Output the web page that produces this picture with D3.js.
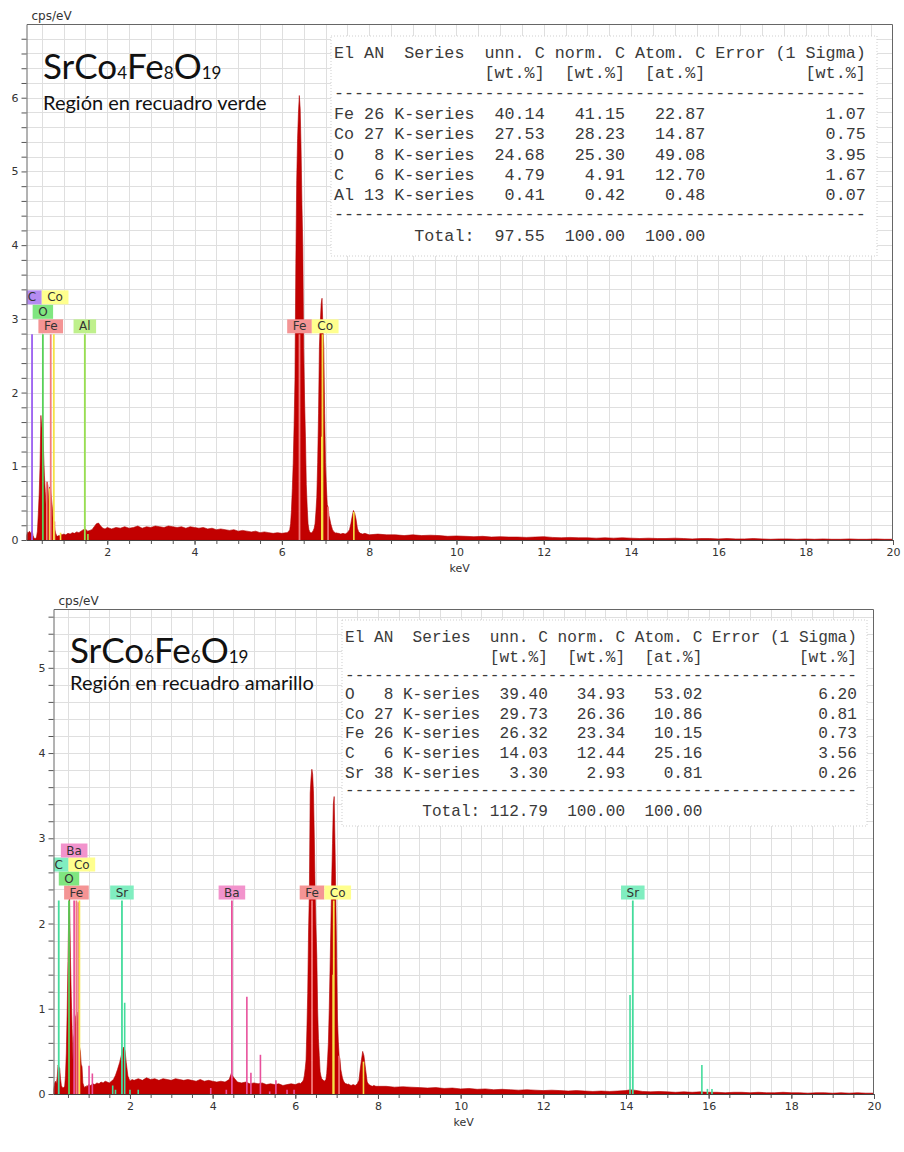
<!DOCTYPE html>
<html>
<head>
<meta charset="utf-8">
<script src="https://cdn.jsdelivr.net/npm/d3@7"></script>
<style>
  body { margin: 0; background: #fff; }
  svg { display: block; }
  .mono { font-family: "Liberation Mono", "DejaVu Sans Mono", monospace; white-space: pre; fill: #3a3a3a; }
  .tick text { font-family: "DejaVu Sans", Verdana, sans-serif; font-size: 11px; fill: #333; }
</style>
</head>
<body>
<svg id="chart" width="904" height="1152"></svg>
<script>
// ---------------- EDS spectrum: SrCo4Fe8O19 (green region) ----------------
const spectrumGreen = [
  [0.15,0.06],[0.16,0.08],[0.18,0.11],[0.20,0.10],[0.22,0.12],[0.24,0.09],[0.26,0.11],[0.28,0.13],[0.30,0.06],
  [0.32,0.03],[0.34,0.02],[0.36,0.02],[0.38,0.04],[0.40,0.12],[0.42,0.35],[0.44,0.62],[0.46,1.00],
  [0.48,1.69],[0.50,1.52],[0.52,1.58],[0.54,1.21],[0.56,0.88],[0.58,0.66],[0.60,0.45],[0.62,0.79],
  [0.64,0.74],[0.66,0.52],[0.68,0.72],[0.70,0.70],[0.72,0.58],[0.74,0.45],[0.76,0.27],[0.78,0.24],
  [0.80,0.14],[0.82,0.09],[0.84,0.06],[0.86,0.05],[0.88,0.06],[0.90,0.05],[0.92,0.07],[0.94,0.06],
  [0.96,0.08],[0.98,0.07],[1.00,0.08],
  [1.05,0.07],[1.10,0.09],[1.15,0.08],[1.20,0.10],[1.25,0.09],[1.30,0.11],[1.35,0.10],[1.40,0.12],
  [1.45,0.14],[1.50,0.15],[1.55,0.12],[1.60,0.13],[1.65,0.14],[1.70,0.18],[1.75,0.22],[1.80,0.23],
  [1.85,0.19],[1.90,0.16],[1.95,0.15],[2.00,0.17],
  [2.1,0.15],[2.2,0.17],[2.3,0.16],[2.4,0.18],[2.5,0.16],[2.6,0.17],[2.7,0.19],[2.8,0.16],[2.9,0.18],
  [3.0,0.17],[3.1,0.19],[3.2,0.18],[3.3,0.17],[3.4,0.19],[3.5,0.18],[3.6,0.17],[3.7,0.18],[3.8,0.16],
  [3.9,0.18],[4.0,0.17],[4.1,0.16],[4.2,0.17],[4.3,0.15],[4.4,0.16],[4.5,0.14],[4.6,0.15],[4.7,0.14],
  [4.8,0.13],[4.9,0.14],[5.0,0.12],[5.1,0.13],[5.2,0.12],[5.3,0.11],[5.4,0.12],[5.5,0.10],[5.6,0.11],
  [5.7,0.10],[5.8,0.09],[5.9,0.10],[6.0,0.09],[6.1,0.10],
  [6.12,0.10],[6.14,0.11],[6.16,0.12],[6.18,0.14],[6.20,0.22],[6.22,0.41],[6.24,0.70],[6.26,1.04],
  [6.28,1.55],[6.30,2.17],[6.32,3.75],[6.34,4.88],[6.36,5.45],[6.38,5.80],[6.40,6.03],[6.42,5.85],
  [6.44,5.30],[6.46,4.55],[6.48,3.97],[6.50,2.60],[6.52,1.90],[6.54,1.40],[6.56,0.75],[6.58,0.45],
  [6.60,0.22],[6.62,0.14],[6.64,0.11],[6.66,0.10],[6.68,0.10],[6.70,0.11],[6.72,0.13],[6.74,0.16],
  [6.76,0.22],[6.78,0.38],[6.80,0.58],[6.82,1.05],[6.84,1.72],[6.86,2.62],[6.88,2.95],[6.90,3.20],
  [6.92,3.28],[6.94,2.90],[6.96,2.62],[6.98,1.72],[7.00,1.05],[7.02,0.72],[7.04,0.48],[7.06,0.44],
  [7.08,0.33],[7.10,0.28],[7.12,0.22],[7.14,0.18],[7.16,0.14],[7.18,0.12],[7.20,0.11],[7.22,0.10],
  [7.24,0.09],[7.26,0.10],[7.28,0.09],[7.30,0.09],
  [7.35,0.08],[7.40,0.09],[7.45,0.08],[7.50,0.10],[7.55,0.14],[7.58,0.22],[7.61,0.32],[7.64,0.40],
  [7.67,0.36],[7.70,0.28],[7.73,0.16],[7.76,0.11],[7.80,0.09],[7.85,0.08],[7.90,0.09],[7.95,0.08],[8.00,0.07],
  [8.2,0.08],[8.4,0.07],[8.6,0.07],[8.8,0.06],[9.0,0.07],[9.2,0.06],[9.4,0.065],[9.6,0.06],[9.8,0.05],
  [10.0,0.055],[10.2,0.05],[10.4,0.045],[10.6,0.05],[10.8,0.04],[11.0,0.045],[11.2,0.04],[11.4,0.04],
  [11.6,0.035],[11.8,0.04],[12.0,0.045],[12.2,0.035],[12.4,0.03],[12.6,0.035],[12.8,0.03],[13.0,0.03],
  [13.2,0.025],[13.4,0.03],[13.6,0.025],[13.8,0.03],[14.0,0.025],[14.2,0.02],[14.4,0.025],[14.6,0.02],
  [14.8,0.02],[15.0,0.025],[15.2,0.02],[15.4,0.015],[15.6,0.02],[15.8,0.02],[16.0,0.015],[16.2,0.02],
  [16.4,0.015],[16.6,0.015],[16.8,0.02],[17.0,0.015],[17.2,0.01],[17.4,0.015],[17.6,0.015],[17.8,0.01],
  [18.0,0.015],[18.2,0.01],[18.4,0.015],[18.6,0.01],[18.8,0.01],[19.0,0.015],[19.2,0.01],[19.4,0.01],
  [19.6,0.015],[19.8,0.01],[20.0,0.01]
];

// Labelled element lines (keV), listed in stacking priority
const labelsGreen = [
  { el: "Fe", keV: 0.705 }, { el: "O", keV: 0.525 }, { el: "C", keV: 0.277 }, { el: "Co", keV: 0.776 },
  { el: "Al", keV: 1.486 }, { el: "Fe", keV: 6.404 }, { el: "Co", keV: 6.930 }
];
// Secondary element lines with their marker heights (cps/eV)
const minorLinesGreen = [
  { el: "Fe", keV: 0.615, cps: 0.78 }, { el: "Co", keV: 0.678, cps: 0.70 }, { el: "Fe", keV: 0.792, cps: 0.25 },
  { el: "Co", keV: 0.930, cps: 0.10 }, { el: "Al", keV: 1.557, cps: 0.08 },
  { el: "Co", keV: 6.915, cps: 1.40 }, { el: "Fe", keV: 7.058, cps: 0.45 }, { el: "Co", keV: 7.649, cps: 0.38 }
];

const tableRowsGreen = [
  ["Fe", 26, "K-series", 40.14, 41.15, 22.87, 1.07],
  ["Co", 27, "K-series", 27.53, 28.23, 14.87, 0.75],
  ["O", 8, "K-series", 24.68, 25.30, 49.08, 3.95],
  ["C", 6, "K-series", 4.79, 4.91, 12.70, 1.67],
  ["Al", 13, "K-series", 0.41, 0.42, 0.48, 0.07]
];
const tableTotalGreen = [97.55, 100.00, 100.00];
const formulaGreen = [["Sr", ""], ["Co", "4"], ["Fe", "8"], ["O", "19"]];
const regionGreen = "Región en recuadro verde";

// ---------------- EDS spectrum: SrCo6Fe6O19 (yellow region) ----------------
const spectrumYellow = [
  [0.15,0.05],[0.16,0.08],[0.18,0.13],[0.20,0.15],[0.22,0.12],[0.24,0.20],[0.26,0.34],[0.28,0.32],[0.30,0.30],
  [0.32,0.18],[0.34,0.10],[0.36,0.08],[0.38,0.07],[0.40,0.08],[0.42,0.09],[0.44,0.22],[0.46,0.48],
  [0.48,0.95],[0.50,1.55],[0.52,2.16],[0.54,2.29],[0.56,1.60],[0.58,1.14],[0.60,0.77],[0.62,0.40],
  [0.64,0.67],[0.66,0.72],[0.68,0.90],[0.70,0.93],[0.72,0.96],[0.74,0.86],[0.76,0.74],[0.78,0.55],
  [0.80,0.50],[0.82,0.35],[0.84,0.32],[0.86,0.13],[0.88,0.10],[0.90,0.07],[0.92,0.09],[0.94,0.08],
  [0.96,0.10],[0.98,0.09],[1.00,0.11],
  [1.05,0.10],[1.10,0.12],[1.15,0.11],[1.20,0.13],[1.25,0.12],[1.30,0.14],[1.35,0.13],[1.40,0.15],
  [1.45,0.14],[1.50,0.13],[1.55,0.15],[1.60,0.17],[1.65,0.22],[1.70,0.29],[1.75,0.37],[1.79,0.45],
  [1.82,0.52],[1.85,0.55],[1.88,0.51],[1.91,0.37],[1.95,0.21],[2.00,0.15],[2.05,0.17],[2.10,0.16],
  [2.2,0.18],[2.3,0.16],[2.4,0.19],[2.5,0.17],[2.6,0.18],[2.7,0.16],[2.8,0.18],[2.9,0.17],[3.0,0.16],
  [3.1,0.18],[3.2,0.17],[3.3,0.16],[3.4,0.17],[3.5,0.16],[3.6,0.15],[3.7,0.17],[3.8,0.15],[3.9,0.16],
  [4.0,0.15],[4.1,0.14],[4.2,0.15],[4.3,0.14],[4.4,0.17],[4.45,0.24],[4.5,0.20],[4.6,0.14],[4.7,0.13],
  [4.8,0.14],[4.9,0.12],[5.0,0.13],[5.1,0.12],[5.2,0.13],[5.3,0.11],[5.4,0.12],[5.5,0.11],[5.6,0.12],
  [5.7,0.10],[5.8,0.11],[5.9,0.12],[6.0,0.11],[6.1,0.13],
  [6.12,0.12],[6.14,0.13],[6.16,0.14],[6.18,0.15],[6.20,0.17],[6.22,0.22],[6.24,0.30],[6.26,0.40],
  [6.28,0.75],[6.30,1.18],[6.32,1.90],[6.34,2.36],[6.36,3.53],[6.38,3.70],[6.40,3.81],[6.42,3.75],
  [6.44,3.53],[6.46,3.00],[6.48,2.36],[6.50,1.95],[6.52,1.62],[6.54,0.99],[6.56,0.65],[6.58,0.45],
  [6.60,0.26],[6.62,0.21],[6.64,0.18],[6.66,0.17],[6.68,0.16],[6.70,0.15],[6.72,0.16],[6.74,0.17],
  [6.76,0.24],[6.78,0.40],[6.80,0.60],[6.82,0.98],[6.84,1.45],[6.86,1.96],[6.88,2.50],[6.90,2.94],
  [6.92,3.40],[6.94,3.49],[6.96,2.94],[6.98,2.30],[7.00,1.60],[7.02,0.88],[7.04,0.62],[7.06,0.45],
  [7.08,0.41],[7.10,0.29],[7.12,0.24],[7.14,0.19],[7.16,0.16],[7.18,0.14],[7.20,0.13],[7.22,0.12],
  [7.24,0.12],[7.26,0.11],[7.28,0.12],[7.30,0.11],
  [7.35,0.10],[7.40,0.11],[7.45,0.10],[7.50,0.12],[7.54,0.16],[7.57,0.29],[7.60,0.40],[7.63,0.50],
  [7.66,0.45],[7.70,0.29],[7.74,0.14],[7.78,0.11],[7.82,0.10],[7.86,0.09],[7.90,0.10],[7.95,0.09],[8.00,0.09],
  [8.2,0.09],[8.4,0.08],[8.6,0.085],[8.8,0.08],[9.0,0.075],[9.2,0.07],[9.4,0.075],[9.6,0.065],[9.8,0.07],
  [10.0,0.06],[10.2,0.065],[10.4,0.055],[10.6,0.06],[10.8,0.05],[11.0,0.055],[11.2,0.05],[11.4,0.045],
  [11.6,0.05],[11.8,0.045],[12.0,0.04],[12.2,0.045],[12.4,0.04],[12.6,0.035],[12.8,0.04],[13.0,0.035],
  [13.2,0.03],[13.4,0.035],[13.6,0.03],[13.8,0.035],[14.0,0.04],[14.1,0.05],[14.2,0.045],[14.4,0.03],
  [14.6,0.025],[14.8,0.03],[15.0,0.025],[15.2,0.02],[15.4,0.025],[15.6,0.02],[15.8,0.025],[16.0,0.02],
  [16.2,0.02],[16.4,0.015],[16.6,0.02],[16.8,0.02],[17.0,0.015],[17.2,0.02],[17.4,0.015],[17.6,0.015],
  [17.8,0.02],[18.0,0.015],[18.2,0.015],[18.4,0.01],[18.6,0.015],[18.8,0.015],[19.0,0.01],[19.2,0.015],
  [19.4,0.01],[19.6,0.015],[19.8,0.01],[20.0,0.01]
];

const labelsYellow = [
  { el: "Fe", keV: 0.705 }, { el: "O", keV: 0.525 }, { el: "C", keV: 0.277 }, { el: "Co", keV: 0.776 },
  { el: "Ba", keV: 0.650 }, { el: "Sr", keV: 1.806 }, { el: "Ba", keV: 4.466 },
  { el: "Fe", keV: 6.404 }, { el: "Co", keV: 6.930 }, { el: "Sr", keV: 14.165 }
];
const minorLinesYellow = [
  { el: "Ba", keV: 0.750, cps: 2.25 }, { el: "Ba", keV: 1.010, cps: 0.33 }, { el: "Ba", keV: 1.090, cps: 0.24 },
  { el: "Sr", keV: 1.582, cps: 0.10 }, { el: "Sr", keV: 1.650, cps: 0.05 }, { el: "Sr", keV: 1.872, cps: 1.07 },
  { el: "Sr", keV: 2.000, cps: 0.05 }, { el: "Sr", keV: 2.200, cps: 0.05 },
  { el: "Ba", keV: 3.954, cps: 0.07 }, { el: "Ba", keV: 4.331, cps: 0.05 }, { el: "Ba", keV: 4.828, cps: 1.14 },
  { el: "Ba", keV: 4.926, cps: 0.25 }, { el: "Ba", keV: 5.156, cps: 0.46 }, { el: "Ba", keV: 5.380, cps: 0.03 },
  { el: "Ba", keV: 5.531, cps: 0.16 }, { el: "Ba", keV: 5.800, cps: 0.05 }, { el: "Ba", keV: 5.970, cps: 0.05 },
  { el: "Co", keV: 6.915, cps: 1.40 }, { el: "Fe", keV: 7.058, cps: 0.45 }, { el: "Co", keV: 7.649, cps: 0.38 },
  { el: "Sr", keV: 14.098, cps: 1.16 }, { el: "Sr", keV: 15.836, cps: 0.34 },
  { el: "Sr", keV: 15.970, cps: 0.06 }, { el: "Sr", keV: 16.080, cps: 0.06 }
];

const tableRowsYellow = [
  ["O", 8, "K-series", 39.40, 34.93, 53.02, 6.20],
  ["Co", 27, "K-series", 29.73, 26.36, 10.86, 0.81],
  ["Fe", 26, "K-series", 26.32, 23.34, 10.15, 0.73],
  ["C", 6, "K-series", 14.03, 12.44, 25.16, 3.56],
  ["Sr", 38, "K-series", 3.30, 2.93, 0.81, 0.26]
];
const tableTotalYellow = [112.79, 100.00, 100.00];
const formulaYellow = [["Sr", ""], ["Co", "6"], ["Fe", "6"], ["O", "19"]];
const regionYellow = "Región en recuadro amarillo";

const xTickLabels = [2, 4, 6, 8, 10, 12, 14, 16, 18, 20];

// ---------------- styling ----------------
const labelFill = {
  green:  { C: "#b58cf2", O: "#80e680", Fe: "#f49494", Co: "#ffff8e", Al: "#bff08c" },
  yellow: { C: "#80eec0", O: "#80e680", Fe: "#f49494", Co: "#ffff8e", Ba: "#f293cc", Sr: "#80eec0" }
};
const lineStroke = {
  green:  { C: "#9a5ef0", O: "#58d058", Fe: "#f27c7c", Co: "#f4e444", Al: "#98e050" },
  yellow: { C: "#44dc9c", O: "#58d058", Fe: "#f27c7c", Co: "#f4e444", Ba: "#e8509c", Sr: "#44dc9c" }
};

const svg = d3.select("#chart");
const defs = svg.append("defs");

function drawPanel(cfg) {
  const g = svg.append("g");
  const x = d3.scaleLinear().domain([0.15, 20]).range([cfg.left, cfg.right]);
  const y = d3.scaleLinear().domain([0, cfg.yMax]).range([cfg.bottom, cfg.top]);

  const clipId = "clip-" + cfg.key;
  defs.append("clipPath").attr("id", clipId)
    .append("rect").attr("x", cfg.left).attr("y", cfg.top)
    .attr("width", cfg.right - cfg.left).attr("height", cfg.bottom - cfg.top);

  const xMinor = d3.range(0.5, 20.001, 0.5);
  const yMinor = d3.range(0, cfg.yMax, 0.2).map(v => +v.toFixed(1));

  // grid
  const grid = g.append("g").attr("stroke", "#dfdfdf").attr("stroke-width", 1);
  grid.selectAll(".gx").data(xMinor.filter(v => v < 20)).join("line")
    .attr("x1", d => Math.round(x(d)) + 0.5).attr("x2", d => Math.round(x(d)) + 0.5)
    .attr("y1", cfg.top).attr("y2", cfg.bottom);
  grid.selectAll(".gy").data(yMinor.filter(v => v > 0)).join("line")
    .attr("x1", cfg.left).attr("x2", cfg.right)
    .attr("y1", d => Math.round(y(d)) + 0.5).attr("y2", d => Math.round(y(d)) + 0.5);

  const plot = g.append("g").attr("clip-path", `url(#${clipId})`);

  // spectrum
  const area = d3.area().x(d => x(d[0])).y0(y(0)).y1(d => y(d[1]));
  plot.append("path").datum(cfg.spectrum).attr("d", area)
    .attr("fill", "#c20000").attr("stroke", "#b00000").attr("stroke-width", 0.6);

  // secondary element lines
  plot.selectAll(".minor").data(cfg.minor).join("line")
    .attr("x1", d => x(d.keV)).attr("x2", d => x(d.keV))
    .attr("y1", y(0)).attr("y2", d => y(d.cps))
    .attr("stroke", d => lineStroke[cfg.key][d.el]).attr("stroke-width", 1.6);

  // labelled element lines
  const topY = y(cfg.markerTop);
  plot.selectAll(".major").data(cfg.labels).join("line")
    .attr("x1", d => x(d.keV)).attr("x2", d => x(d.keV))
    .attr("y1", y(0)).attr("y2", topY)
    .attr("stroke", d => lineStroke[cfg.key][d.el]).attr("stroke-width", 1.8);

  // labels: a box that only slightly overlaps its left neighbour slides right,
  // otherwise it climbs to the next free row
  const placed = [];
  const lab = plot.append("g");
  const hits = (row, a, b) => placed.filter(p => p.row === row && p.x0 < b - 0.5 && p.x1 > a + 0.5);
  cfg.labels.forEach(d => {
    const t = lab.append("text").text(d.el)
      .attr("font-family", "DejaVu Sans, Verdana, sans-serif").attr("font-size", 12)
      .attr("fill", "#333").attr("text-anchor", "middle");
    const w = t.node().getComputedTextLength() + 11;
    const cx = x(d.keV);
    let row = 0, bx0, bx1;
    for (;;) {
      bx0 = cx - w / 2; bx1 = cx + w / 2;
      const h = hits(row, bx0, bx1);
      if (!h.length) break;
      if (h.length === 1 && (h[0].x0 + h[0].x1) / 2 < cx && h[0].x1 - bx0 <= 5) {
        const s = h[0].x1 - bx0; bx0 += s; bx1 += s;
        if (!hits(row, bx0, bx1).length) break;
      }
      row++;
    }
    placed.push({ row, x0: bx0, x1: bx1 });
    const yb = topY - 1 - row * cfg.rowStep;
    lab.insert("rect", "text").attr("x", bx0).attr("y", yb - 14).attr("width", w).attr("height", 14)
      .attr("fill", labelFill[cfg.key][d.el]);
    t.attr("x", (bx0 + bx1) / 2).attr("y", yb - 3);
  });

  // title block
  const title = g.append("text").attr("x", cfg.titleX).attr("y", cfg.titleY)
    .attr("font-family", "Lato, 'Open Sans', sans-serif").attr("fill", "#111");
  cfg.formula.forEach(([sym, n]) => {
    title.append("tspan").attr("font-size", 35).text(sym);
    if (n) title.append("tspan").attr("font-size", 17).text(n);
  });
  g.append("text").attr("x", cfg.titleX).attr("y", cfg.subY)
    .attr("font-family", "Lato, 'Open Sans', sans-serif").attr("font-size", 20)
    .attr("fill", "#111").text(cfg.region);

  // composition table
  const tb = cfg.table;
  g.append("rect").attr("x", tb.x).attr("y", tb.y).attr("width", tb.w).attr("height", tb.h)
    .attr("fill", "#fff").attr("stroke", "#cfcfcf").attr("stroke-dasharray", "1,2");
  const dash = "-".repeat(53);
  const lines = [
    "El AN  Series  unn. C norm. C Atom. C Error (1 Sigma)",
    " ".repeat(15) + "[wt.%]  [wt.%]  [at.%]" + " ".repeat(10) + "[wt.%]",
    dash,
    ...cfg.rows.map(r => r[0].padEnd(3) + String(r[1]).padStart(2) + " " + r[2] +
      r[3].toFixed(2).padStart(7) + r[4].toFixed(2).padStart(8) +
      r[5].toFixed(2).padStart(8) + r[6].toFixed(2).padStart(16)),
    dash,
    " ".repeat(8) + "Total:" + cfg.total[0].toFixed(2).padStart(7) +
      cfg.total[1].toFixed(2).padStart(8) + cfg.total[2].toFixed(2).padStart(8)
  ];
  g.selectAll(".row-" + cfg.key).data(lines).join("text")
    .attr("class", "mono").attr("x", tb.textX).attr("y", (d, i) => tb.baselines[i])
    .attr("font-size", tb.font).text(d => d);

  // frame
  g.append("path")
    .attr("d", `M${cfg.left + 0.5},${cfg.bottom}V${cfg.top + 0.5}H${cfg.right - 0.5}V${cfg.bottom}`)
    .attr("fill", "none").attr("stroke", "#666").attr("stroke-width", 1);

  // axes
  const xAxisMinor = d3.axisBottom(x).tickValues(xMinor).tickSize(4).tickFormat("");
  g.append("g").attr("transform", `translate(0,${cfg.bottom})`).call(xAxisMinor)
    .call(s => s.select(".domain").remove())
    .call(s => s.selectAll("line").attr("stroke", "#555"));
  const xAxis = d3.axisBottom(x).tickValues(xTickLabels).tickSize(5).tickPadding(3)
    .tickFormat(d3.format("d"));
  g.append("g").attr("transform", `translate(0,${cfg.bottom})`).call(xAxis)
    .call(s => s.select(".domain").attr("stroke", "#444").attr("d", `M${cfg.left},0.5H${cfg.right}`))
    .call(s => s.selectAll("line").attr("stroke", "#555"));

  const yAxis = d3.axisLeft(y).tickValues(yMinor).tickSize(5).tickPadding(3)
    .tickFormat(d => Number.isInteger(d) ? d : "");
  g.append("g").attr("transform", `translate(${cfg.left},0)`).call(yAxis)
    .call(s => s.select(".domain").remove())
    .call(s => s.selectAll("line").attr("stroke", "#555"));

  g.append("text").attr("x", cfg.left + 5).attr("y", cfg.top - 4)
    .attr("font-family", "DejaVu Sans, Verdana, sans-serif").attr("font-size", 12)
    .attr("fill", "#333").text("cps/eV");
  g.append("text").attr("x", (cfg.left + cfg.right) / 2).attr("y", cfg.bottom + 32)
    .attr("text-anchor", "middle")
    .attr("font-family", "DejaVu Sans, Verdana, sans-serif").attr("font-size", 11)
    .attr("fill", "#333").text("keV");
}

drawPanel({
  key: "green", left: 26.5, right: 893, top: 24, bottom: 540, yMax: 7,
  markerTop: 2.79, rowStep: 14.5,
  spectrum: spectrumGreen, labels: labelsGreen, minor: minorLinesGreen,
  formula: formulaGreen, region: regionGreen, titleX: 43, titleY: 79, subY: 110,
  rows: tableRowsGreen, total: tableTotalGreen,
  table: { x: 331, y: 36, w: 546, h: 220, textX: 334, font: 16.73,
           baselines: [58, 78.3, 97.5, 119, 139.3, 159.5, 180, 200, 219, 240.5] }
});

drawPanel({
  key: "yellow", left: 53.5, right: 874, top: 609, bottom: 1094, yMax: 5.69,
  markerTop: 2.27, rowStep: 14,
  spectrum: spectrumYellow, labels: labelsYellow, minor: minorLinesYellow,
  formula: formulaYellow, region: regionYellow, titleX: 70, titleY: 663, subY: 690,
  rows: tableRowsYellow, total: tableTotalYellow,
  table: { x: 342, y: 620, w: 525, h: 206, textX: 345, font: 16.1,
           baselines: [642.3, 661.7, 680, 699.3, 719.3, 738.3, 758.3, 778.3, 795, 816] }
});
</script>
</body>
</html>
